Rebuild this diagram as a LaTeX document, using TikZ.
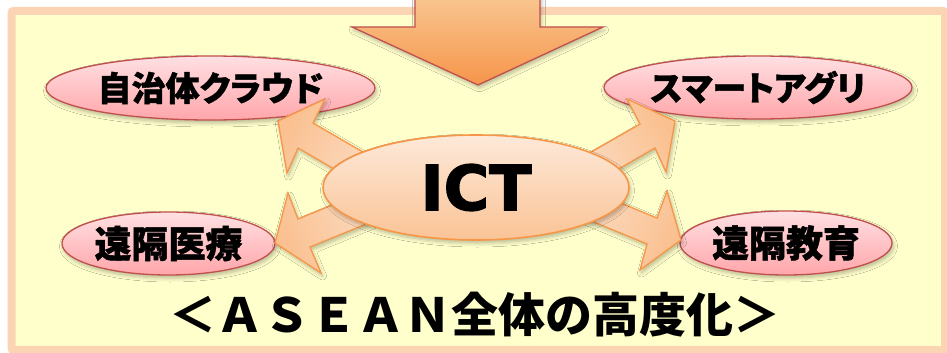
\documentclass[tikz,border=0pt]{standalone}
\usepackage{fontspec}
\usetikzlibrary{shapes.geometric,shadows.blur}
\newfontfamily\jplabel[RawFeature=+palt, BoldFeatures={FakeBold=1.2}]{Noto Sans CJK JP}
\newfontfamily\jpnorm{Noto Sans CJK JP}
\newfontfamily\ictfont[BoldFeatures={FakeBold=2.2}]{DejaVu Sans}
\definecolor{panelfill}{HTML}{FFFFCC}
\definecolor{panelline}{HTML}{FBD4B4}
\definecolor{pinktop}{HTML}{FFE0E3}
\definecolor{pinkbot}{HTML}{FFA6AA}
\definecolor{darkred}{HTML}{C0504D}
\definecolor{peachlight}{HTML}{FDE9D9}
\definecolor{peachdark}{HTML}{FAC090}
\definecolor{orangeline}{HTML}{F79646}
\definecolor{bigtop}{HTML}{F9C691}
\definecolor{bigbot}{HTML}{F6954A}
\tikzset{
  softshadow/.style={blur shadow={shadow blur steps=6, shadow xshift=1.5pt, shadow yshift=-3pt, shadow opacity=28, shadow blur radius=4pt}},
  pinkell/.style={ellipse, draw=darkred, line width=1.3pt, top color=pinktop, bottom color=pinkbot, inner sep=0pt, softshadow,
     font=\jplabel\bfseries\fontsize{34}{34}\selectfont},
  ictell/.style={ellipse, draw=orangeline, line width=1.6pt, top color=peachlight, bottom color=peachdark!92!peachlight, inner sep=0pt, softshadow,
     font=\ictfont\bfseries\fontsize{62}{62}\selectfont},
  smallarrow/.style={draw=orangeline, line width=1.3pt, line join=miter, top color=peachdark, bottom color=peachlight!80!peachdark, softshadow},
  bigarrow/.style={draw=darkred, line width=1.3pt, line join=miter, top color=bigtop, bottom color=bigbot, softshadow},
  panel/.style={draw=panelline, line width=8pt, fill=panelfill, rounded corners=2pt}
}
\begin{document}
\begin{tikzpicture}[x=1pt,y=-1pt]
\useasboundingbox (0,0) rectangle (947,353);
\fill[white] (0,0) rectangle (947,353);
\draw[panel] (11.5,11) rectangle (945,350);
% big down arrow
\draw[bigarrow] (415,-5) -- (415,27) -- (352,27) -- (478,85) -- (603,27) -- (540,27) -- (540,-5) -- cycle;
% pink ellipses
\node[pinkell, minimum width=329pt, minimum height=64pt] (jichitai) at (210.5,88) {\raisebox{-4pt}{自治体クラウド}};
\node[pinkell, minimum width=308pt, minimum height=63pt] (agri) at (758,87.5) {\raisebox{-3pt}{スマートアグリ}};
\node[pinkell, minimum width=213pt, minimum height=63pt, font=\jplabel\bfseries\fontsize{37}{37}\selectfont] (iryo) at (168.5,243.5) {\raisebox{-2pt}{遠隔医療}};
\node[pinkell, minimum width=212pt, minimum height=64pt, font=\jplabel\bfseries\fontsize{37}{37}\selectfont] (kyoiku) at (786,243) {\raisebox{-2pt}{遠隔教育}};
% small block arrows (heads over the pink ellipses, tails under ICT)
\draw[smallarrow, shading angle=60] (278,121) -- (325,99) -- (313,123) -- (399,173) -- (384,198) -- (298,148) -- (287,173) -- cycle;
\draw[smallarrow, shading angle=-60] (675,121) -- (627,99) -- (640,124) -- (553,174) -- (568,198) -- (655,148) -- (666,172) -- cycle;
\draw[smallarrow, shading angle=112] (275,243) -- (288,193) -- (298,219) -- (391,181) -- (403,209) -- (310,247) -- (321,273) -- cycle;
\draw[smallarrow, shading angle=-112] (681,240) -- (667,191) -- (657,218) -- (565,180) -- (555,206) -- (647,244) -- (640,270) -- cycle;
% centre ellipse
\node[ictell, minimum width=306pt, minimum height=105pt] (ict) at (476,187.5) {ICT};
% bottom caption
\node[font=\jpnorm\bfseries\fontsize{47}{47}\selectfont, inner sep=0pt] (goal) at (475,315) {＜ＡＳＥＡＮ全体の高度化＞};
\end{tikzpicture}
\end{document}
